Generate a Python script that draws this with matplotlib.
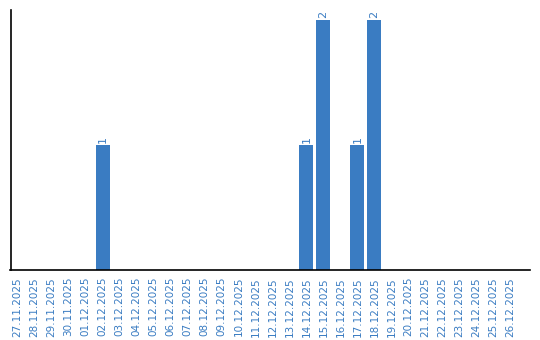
import matplotlib
matplotlib.use("Agg")
import matplotlib.pyplot as plt

# daily counts 27.11.2025 .. 26.12.2025
dates = ["27.11.2025", "28.11.2025", "29.11.2025", "30.11.2025", "01.12.2025",
         "02.12.2025", "03.12.2025", "04.12.2025", "05.12.2025", "06.12.2025",
         "07.12.2025", "08.12.2025", "09.12.2025", "10.12.2025", "11.12.2025",
         "12.12.2025", "13.12.2025", "14.12.2025", "15.12.2025", "16.12.2025",
         "17.12.2025", "18.12.2025", "19.12.2025", "20.12.2025", "21.12.2025",
         "22.12.2025", "23.12.2025", "24.12.2025", "25.12.2025", "26.12.2025"]
counts = [0, 0, 0, 0, 0,
          1, 0, 0, 0, 0,
          0, 0, 0, 0, 0,
          0, 0, 1, 2, 0,
          1, 2, 0, 0, 0,
          0, 0, 0, 0, 0]

BLUE = "#3a7cc2"
W, H = 540, 340

fig = plt.figure(figsize=(W / 100, H / 100), dpi=100)
ax = fig.add_axes([10.5 / W, (H - 270) / H, 519.5 / W, 260 / H])

x = list(range(len(dates)))
bars = ax.bar(x, counts, width=0.82, color=BLUE)
for b, v in zip(bars, counts):
    if v > 0:
        ax.text(b.get_x() + b.get_width() / 2, v + 0.02, str(v), rotation=90,
                ha="center", va="bottom", fontsize=8, color=BLUE)

ax.set_xlim(-0.42, 30.16)
ax.set_ylim(0, 2.08)
ax.set_xticks(x)
ax.set_xticklabels(dates, rotation=90, fontsize=7.5, color=BLUE)
ax.tick_params(axis="x", length=0, pad=5)
ax.set_yticks([])
for s in ["top", "right"]:
    ax.spines[s].set_visible(False)
for s in ["left", "bottom"]:
    ax.spines[s].set_linewidth(1.2)

fig.savefig("out.png", dpi=100)
